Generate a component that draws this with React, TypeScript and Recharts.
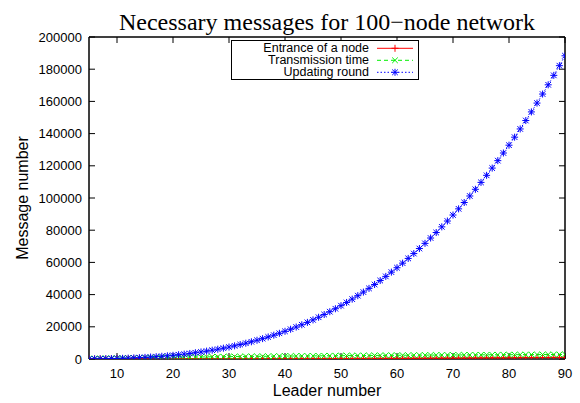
import { LineChart, Line, XAxis, YAxis, Legend, Label, ReferenceArea } from "recharts";

const SANS = "'Liberation Sans', Arial, Helvetica, sans-serif";
const SERIF = "'Liberation Serif', 'Times New Roman', serif";

const leaders = [
  5, 6, 7, 8, 9, 10, 11, 12, 13, 14, 15, 16, 17, 18, 19, 20, 21, 22, 23, 24,
  25, 26, 27, 28, 29, 30, 31, 32, 33, 34, 35, 36, 37, 38, 39, 40, 41, 42, 43,
  44, 45, 46, 47, 48, 49, 50, 51, 52, 53, 54, 55, 56, 57, 58, 59, 60, 61, 62,
  63, 64, 65, 66, 67, 68, 69, 70, 71, 72, 73, 74, 75, 76, 77, 78, 79, 80, 81,
  82, 83, 84, 85, 86, 87, 88, 89, 90,
];

const entrance = [
  3, 5, 6, 8, 10, 13, 15, 18, 21, 25, 28, 32, 36, 41, 45, 50, 55, 61, 66, 72,
  78, 85, 91, 98, 105, 113, 120, 128, 136, 145, 153, 162, 171, 181, 190, 200,
  210, 221, 231, 242, 253, 265, 276, 288, 300, 313, 325, 338, 351, 365, 378,
  392, 406, 421, 435, 450, 465, 481, 496, 512, 528, 545, 561, 578, 595, 613,
  630, 648, 666, 685, 703, 722, 741, 761, 780, 800, 820, 841, 861, 882, 903,
  925, 946, 968, 990, 1013,
];

const transmission = [
  250, 300, 360, 420, 480, 540, 600, 660, 710, 770, 820, 870, 920, 970, 1020,
  1060, 1110, 1150, 1200, 1240, 1280, 1320, 1360, 1400, 1440, 1480, 1510, 1550,
  1580, 1620, 1650, 1680, 1710, 1750, 1780, 1810, 1840, 1860, 1890, 1920, 1950,
  1970, 2000, 2030, 2050, 2080, 2100, 2130, 2150, 2170, 2200, 2220, 2240, 2260,
  2290, 2310, 2330, 2350, 2370, 2390, 2410, 2430, 2450, 2470, 2490, 2500, 2520,
  2540, 2560, 2580, 2590, 2610, 2630, 2640, 2660, 2680, 2690, 2710, 2720, 2740,
  2750, 2770, 2780, 2800, 2810, 2830,
];

const updating = [
  50, 81, 123, 176, 243, 325, 424, 540, 676, 833, 1013, 1216, 1445, 1701, 1986,
  2300, 2646, 3025, 3439, 3888, 4375, 4901, 5468, 6076, 6728, 7425, 8169, 8960,
  9801, 10693, 11638, 12636, 13690, 14801, 15971, 17200, 18491, 19845, 21264,
  22748, 24300, 25921, 27613, 29376, 31213, 33125, 35114, 37180, 39326, 41553,
  43863, 46256, 48735, 51301, 53956, 56700, 59536, 62465, 65489, 68608, 71825,
  75141, 78558, 82076, 85698, 89425, 93259, 97200, 101251, 105413, 109688,
  114076, 118580, 123201, 127941, 132800, 137781, 142885, 148114, 153468,
  158950, 164561, 170303, 176176, 182183, 188325,
];

const xTicks = [10, 20, 30, 40, 50, 60, 70, 80, 90];
const yTicks = [
  0, 20000, 40000, 60000, 80000, 100000, 120000, 140000, 160000, 180000, 200000,
];

type Marker = "plus" | "cross" | "star";

// the updating series sits on the mirrored top/right axes so that the
// border on those sides gets drawn as well
const series: {
  key: string;
  name: string;
  color: string;
  dash?: string;
  marker: Marker;
  xId: string;
  yId: string;
}[] = [
  { key: "entrance", name: "Entrance of a node", color: "#ff0000", marker: "plus", xId: "bottom", yId: "left" },
  { key: "transmission", name: "Transmission time", color: "#00f000", dash: "4 3", marker: "cross", xId: "bottom", yId: "left" },
  { key: "updating", name: "Updating round", color: "#0000ff", dash: "1.5 2", marker: "star", xId: "top", yId: "right" },
];

const rows = leaders.map((leader, i) => ({
  leader,
  entrance: entrance[i],
  transmission: transmission[i],
  updating: updating[i],
}));

function markerPath(kind: Marker, cx: number, cy: number) {
  const p = 3.5;
  const c = 2.8;
  const plus = `M${cx - p},${cy}H${cx + p}M${cx},${cy - p}V${cy + p}`;
  const cross = `M${cx - c},${cy - c}L${cx + c},${cy + c}M${cx - c},${cy + c}L${cx + c},${cy - c}`;
  if (kind === "plus") return plus;
  if (kind === "cross") return cross;
  return plus + cross;
}

function makeDot(kind: Marker, color: string) {
  return (props: any) => {
    const { cx, cy, index } = props;
    if (cx == null || cy == null) return <g key={`${kind}-${index}`} />;
    return (
      <path
        key={`${kind}-${index}`}
        d={markerPath(kind, cx, cy)}
        stroke={color}
        strokeWidth={1}
        fill="none"
      />
    );
  };
}

function KeyBox() {
  const w = 188;
  const h = 40;
  return (
    <svg width={w} height={h} style={{ display: "block" }}>
      <rect x={0.5} y={0.5} width={w - 1} height={h - 1} fill="#fff" stroke="#000" />
      {series.map((s, i) => {
        const y = 8.3 + i * 12;
        return (
          <g key={s.key}>
            <text
              x={138}
              y={y}
              textAnchor="end"
              dominantBaseline="central"
              fontFamily={SANS}
              fontSize={12.5}
              fill="#000"
            >
              {s.name}
            </text>
            <line x1={146} x2={182} y1={y} y2={y} stroke={s.color} strokeDasharray={s.dash} />
            <path d={markerPath(s.marker, 164, y)} stroke={s.color} fill="none" />
          </g>
        );
      })}
    </svg>
  );
}

const tickStyle = { fill: "#000", fontSize: 13, fontFamily: SANS };

export default function App() {
  return (
    <div style={{ position: "absolute", left: 0, top: 0, width: 580, height: 403, background: "#fff" }}>
      <LineChart
        width={580}
        height={403}
        data={rows}
        margin={{ top: 36, right: 14, bottom: 0, left: 0 }}
      >
        <text
          x={327}
          y={30}
          textAnchor="middle"
          fontFamily={SERIF}
          fontSize={24}
          fill="#000"
        >
          Necessary messages for 100−node network
        </text>
        <XAxis
          xAxisId="bottom"
          dataKey="leader"
          type="number"
          domain={[5, 90]}
          ticks={xTicks}
          allowDataOverflow
          height={44}
          tickSize={-6}
          tickMargin={16}
          stroke="#000"
          tick={tickStyle}
        >
          <Label
            value="Leader number"
            position="insideBottom"
            offset={7}
            style={{ fill: "#000", fontSize: 16, fontFamily: SANS }}
          />
        </XAxis>
        <XAxis
          xAxisId="top"
          orientation="top"
          dataKey="leader"
          type="number"
          domain={[5, 90]}
          ticks={xTicks}
          allowDataOverflow
          height={1}
          tickSize={-6}
          tickFormatter={() => ""}
          stroke="#000"
        />
        <YAxis
          yAxisId="left"
          type="number"
          domain={[0, 200000]}
          ticks={yTicks}
          allowDataOverflow
          width={89}
          tickSize={-6}
          tickMargin={13}
          stroke="#000"
          tick={tickStyle}
        >
          <Label
            value="Message number"
            angle={-90}
            position="insideLeft"
            offset={22}
            style={{ fill: "#000", fontSize: 16, fontFamily: SANS, textAnchor: "middle" }}
          />
        </YAxis>
        <YAxis
          yAxisId="right"
          orientation="right"
          type="number"
          domain={[0, 200000]}
          ticks={yTicks}
          allowDataOverflow
          width={1}
          tickSize={-6}
          tickFormatter={() => ""}
          stroke="#000"
        />
        {/* plot frame */}
        <ReferenceArea
          xAxisId="bottom"
          yAxisId="left"
          x1={5}
          x2={90}
          y1={0}
          y2={200000}
          fill="none"
          fillOpacity={0}
          stroke="#000"
          strokeWidth={1}
          strokeOpacity={1}
          ifOverflow="visible"
        />
        <Legend
          layout="horizontal"
          verticalAlign="middle"
          align="center"
          wrapperStyle={{ left: 231, top: 40, width: 188, height: 40 }}
          content={() => <KeyBox />}
        />
        {series.map((s) => (
          <Line
            key={s.key}
            xAxisId={s.xId}
            yAxisId={s.yId}
            dataKey={s.key}
            name={s.name}
            stroke={s.color}
            strokeWidth={1}
            strokeDasharray={s.dash}
            dot={makeDot(s.marker, s.color)}
            activeDot={false}
            isAnimationActive={false}
          />
        ))}
      </LineChart>
    </div>
  );
}
